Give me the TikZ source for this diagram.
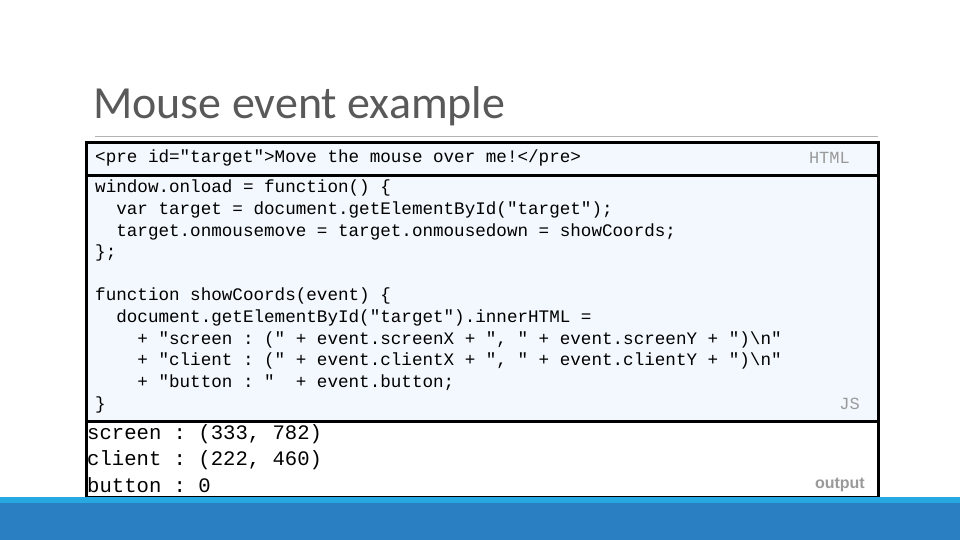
\documentclass[tikz,border=0pt]{standalone}
\usepackage{fontspec}
\setmainfont{Carlito}
\setmonofont{Liberation Mono}
\newfontfamily\labelfont{Liberation Sans}
\definecolor{boxfill}{HTML}{F2F8FD}
\definecolor{bardark}{HTML}{2A7EC2}
\definecolor{barlight}{HTML}{25A9E0}
\definecolor{tagcol}{HTML}{9A9A9A}
\tikzset{
  codeline/.style={anchor=west, inner sep=0pt, font=\fontsize{17.6}{21}\ttfamily},
  outline/.style={anchor=west, inner sep=0pt, font=\fontsize{20.6}{24}\ttfamily},
  tag/.style={anchor=east, inner sep=0pt, text=tagcol, font=\fontsize{17}{20}\ttfamily},
  codebox/.style={draw=black, line width=3pt}
}
\newcommand{\ind}[1]{\hphantom{#1}}
\begin{document}
\begin{tikzpicture}[x=1pt,y=-1pt]
\useasboundingbox (0,0) rectangle (960,540);
\node[anchor=west, inner sep=0pt, text=black!65, font=\fontsize{46}{50}\selectfont] (title) at (93,106) {Mouse event example};
\draw[gray!60, line width=1pt] (95,137) -- (878,137);
% boxes
\draw[codebox, fill=boxfill] (86,143) rectangle (878,176);
\draw[codebox, fill=boxfill] (86,176) rectangle (878,421);
\draw[codebox, fill=white] (86,421) rectangle (878,497);
% bottom bar
\fill[bardark] (0,497) rectangle (960,540);
\fill[barlight] (0,497) rectangle (960,503);
% html
\node[codeline] (html) at (95,158) {<pre id="target">Move the mouse over me!</pre>};
\node[tag] (htmltag) at (850,158) {HTML};
% js
\node[codeline] (js1) at (95,188) {window.onload = function() \{};
\node[codeline] (js2) at (95,210) {\ind{xx}var target = document.getElementById("target");};
\node[codeline] (js3) at (95,232) {\ind{xx}target.onmousemove = target.onmousedown = showCoords;};
\node[codeline] (js4) at (95,253) {\};};
\node[codeline] (js5) at (95,296) {function showCoords(event) \{};
\node[codeline] (js6) at (95,318) {\ind{xx}document.getElementById("target").innerHTML =};
\node[codeline] (js7) at (95,340) {\ind{xxxx}+ "screen : (" + event.screenX + ", " + event.screenY + ")\textbackslash n"};
\node[codeline] (js8) at (95,361) {\ind{xxxx}+ "client : (" + event.clientX + ", " + event.clientY + ")\textbackslash n"};
\node[codeline] (js9) at (95,383) {\ind{xxxx}+ "button : "\ind{x} + event.button;};
\node[codeline] (js10) at (95,405) {\}};
\node[tag] (jstag) at (860,404) {JS};
% output
\node[outline] (out1) at (87,434) {screen : (333, 782)};
\node[outline] (out2) at (87,460) {client : (222, 460)};
\node[outline] (out3) at (87,485) {button : 0};
\node[tag, font=\fontsize{16}{19}\labelfont\bfseries] (outtag) at (865,485) {output};
\end{tikzpicture}
\end{document}
